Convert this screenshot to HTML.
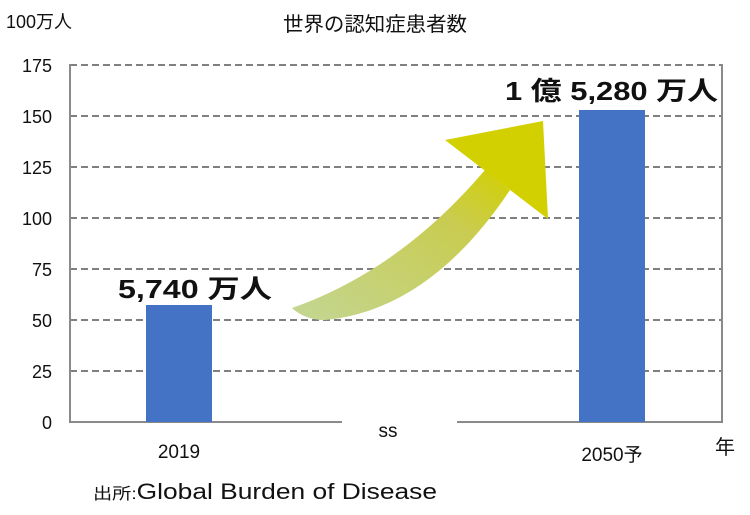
<!DOCTYPE html>
<html><head><meta charset="utf-8"><style>
body{margin:0;background:#fff;}
svg text{font-family:"Liberation Sans","Noto Sans CJK JP",sans-serif;}
</style></head><body>
<svg width="750" height="510" xmlns="http://www.w3.org/2000/svg">
<defs><linearGradient id="g" x1="0" y1="1" x2="1" y2="0">
<stop offset="0" stop-color="#c3d693"/><stop offset="0.7" stop-color="#c9cc50"/><stop offset="1" stop-color="#d2d000"/></linearGradient></defs>
<g stroke="#808080" stroke-width="2" stroke-dasharray="7,4">
<line x1="70" y1="65" x2="722" y2="65"/><line x1="70" y1="116" x2="722" y2="116"/>
<line x1="70" y1="167" x2="722" y2="167"/><line x1="70" y1="218" x2="722" y2="218"/>
<line x1="70" y1="269" x2="722" y2="269"/><line x1="70" y1="320" x2="722" y2="320"/>
<line x1="70" y1="371" x2="722" y2="371"/></g>
<g stroke="#8a8a8a" stroke-width="2" fill="none">
<line x1="70" y1="64" x2="70" y2="422"/><line x1="722" y1="64" x2="722" y2="422"/>
<line x1="69" y1="422" x2="342" y2="422"/><line x1="457" y1="422" x2="723" y2="422"/></g>
<rect x="146" y="305" width="66" height="117" fill="#4472c4"/>
<rect x="579" y="110" width="66" height="312" fill="#4472c4"/>
<path d="M292,308 Q400,270 485,170 L510,190 Q430,310 325,320 Q305,320 292,308 Z" fill="url(#g)"/>
<polygon points="445,140 543,121 548,219" fill="#d2d000"/>
<g font-size="18" fill="#111" text-anchor="end">
<text x="52" y="72">175</text><text x="52" y="123">150</text><text x="52" y="174">125</text>
<text x="52" y="225">100</text><text x="52" y="276">75</text><text x="52" y="327">50</text>
<text x="52" y="378">25</text><text x="52" y="429">0</text></g>
<text x="6" y="28" font-size="18" fill="#111">100万人</text>
<text x="283" y="31" font-size="20" fill="#111" textLength="184" lengthAdjust="spacingAndGlyphs">世界の認知症患者数</text>
<text x="179" y="458" font-size="19" fill="#111" text-anchor="middle">2019</text>
<text x="612" y="461" font-size="19" fill="#111" text-anchor="middle">2050予</text>
<text x="715" y="454" font-size="20" fill="#111">年</text>
<text x="388" y="437" font-size="19" fill="#111" text-anchor="middle">ss</text>
<text x="93" y="499" font-size="22" fill="#111" textLength="344" lengthAdjust="spacingAndGlyphs"><tspan font-size="16">出所:</tspan>Global Burden of Disease</text>
<text x="118" y="298" font-size="26" font-weight="bold" fill="#111" textLength="154" lengthAdjust="spacingAndGlyphs">5,740 万人</text>
<text x="505" y="100" font-size="26" font-weight="bold" fill="#111" textLength="213" lengthAdjust="spacingAndGlyphs">1 億 5,280 万人</text>
</svg>
</body></html>
